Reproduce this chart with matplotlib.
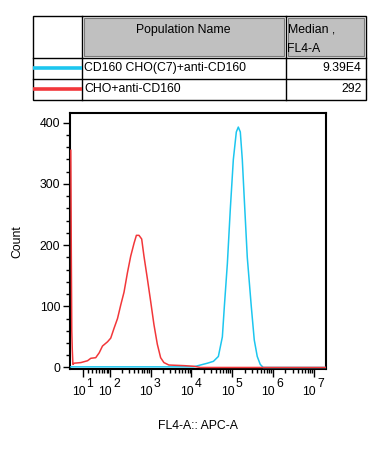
import numpy as np
import matplotlib
matplotlib.use("Agg")
import matplotlib.pyplot as plt
from matplotlib.patches import Rectangle
from matplotlib import transforms as mtrans

plt.rcParams["font.family"] = ["Liberation Sans", "DejaVu Sans"]
plt.rcParams["font.size"] = 8.8

# populations shown in the legend table
pop_names = ["CD160 CHO(C7)+anti-CD160", "CHO+anti-CD160"]
pop_medians = ["9.39E4", "292"]
pop_colors = ["#1cc6ef", "#f2373a"]

# FL4-A histogram of CHO+anti-CD160 (intensity, count)
red_x = [-14.8, -13.8, -12.8, -11.8, -10.5, -7.9, 5.0, 18.5, 26, 39, 50, 62, 85, 103,
         125, 153, 184, 222, 270, 325, 392, 448, 519, 604, 687, 833, 1003, 1207,
         1459, 1758, 2115, 2800, 6500, 11400, 16600, 1.96e7]
red_y = [355, 190, 60, 30, 5, 7, 8, 11, 15, 16, 24, 35, 42, 48,
         64, 80, 102, 123, 155, 182, 203, 216, 216, 210, 182, 145, 108, 70,
         38, 16, 8, 4, 3, 2, 0, 0]

# FL4-A histogram of CD160 CHO(C7)+anti-CD160
blue_x = [-14.8, 11190, 16600, 24600, 34400, 45500, 57000, 63800, 75600, 89400,
          105800, 125200, 140000, 156700, 175300, 196200, 232200, 290700,
          344000, 407000, 482000, 570000, 1.96e7]
blue_y = [1, 1, 4, 7, 10, 18, 50, 100, 170, 260,
          340, 385, 393, 385, 340, 275, 180, 100,
          45, 18, 5, 0, 0]

decades = [1, 2, 3, 4, 5, 6, 7]
y_major = [0, 100, 200, 300, 400]

W, H = 382, 455
fig = plt.figure(figsize=(W / 100, H / 100), dpi=100)

# overlay in pixel coordinates for the legend table
tab = fig.add_axes([0, 0, 1, 1])
tab.set_xlim(0, W)
tab.set_ylim(H, 0)
tab.axis("off")

tx0, tx1, tx2, tx3 = 32.5, 81.5, 285.5, 365.5
ty0, ty1, ty2, ty3 = 16, 57.5, 78.5, 99.5
for x0, x1 in [(tx1, tx2), (tx2, tx3)]:
    tab.add_patch(Rectangle((x0 + 2, ty0 + 2), x1 - x0 - 4, ty1 - ty0 - 4,
                            facecolor="#c0c0c0", edgecolor="#7a7a7a", lw=0.8))
tab.add_patch(Rectangle((tx0, ty0), tx3 - tx0, ty3 - ty0, fill=False,
                        edgecolor="black", lw=1))
for yy in [ty1, ty2]:
    tab.plot([tx0, tx3], [yy, yy], color="black", lw=1)
for xx in [tx1, tx2]:
    tab.plot([xx, xx], [ty0, ty3], color="black", lw=1)

tab.text((tx1 + tx2) / 2, 30, "Population Name", ha="center", va="center")
tab.text(tx2 + 2, 30, "Median ,", ha="left", va="center")
tab.text(tx2 + 2, 48.5, "FL4-A", ha="left", va="center")
for i, (nm, med, col) in enumerate(zip(pop_names, pop_medians, pop_colors)):
    yc = [67.5, 89][i]
    tab.plot([tx0, tx1], [yc, yc], color=col, lw=2.6, solid_capstyle="butt")
    tab.text(tx1 + 3, yc + 0.5, nm, ha="left", va="center")
    tab.text(tx3 - 4, yc + 0.5, med, ha="right", va="center")

# histogram axes
ax = fig.add_axes([70 / W, 1 - 369 / H, 256 / W, 256 / H])
ax.set_xscale("function", functions=(lambda v: np.arcsinh(np.asarray(v) / 34.0),
                                      lambda u: 34.0 * np.sinh(np.asarray(u))))
ax.plot(blue_x, blue_y, color=pop_colors[0], lw=1.1, zorder=3)
ax.plot(red_x, red_y, color=pop_colors[1], lw=1.1, zorder=3)
ax.set_xlim(-16.5, 1.96e7)
ax.set_ylim(-2.5, 416)

for s in ax.spines.values():
    s.set_linewidth(1.5)
    s.set_zorder(2)

ax.set_yticks(y_major)
ax.set_yticks(np.arange(0, 416, 20), minor=True)
ax.tick_params(axis="y", which="major", direction="out", length=5, width=1,
               labelsize=8.8, pad=2)
ax.tick_params(axis="y", which="minor", direction="out", length=3, width=1)

major_x = [10.0 ** d for d in decades]
minor_x = [k * 10.0 ** d for d in range(1, 8) for k in range(2, 10)
           if k * 10.0 ** d < 1.96e7]
ax.set_xticks(major_x)
ax.set_xticks(minor_x, minor=True)
ax.set_xticklabels([])
ax.tick_params(axis="x", which="major", direction="out", length=6, width=1)
ax.tick_params(axis="x", which="minor", direction="out", length=3, width=1)

blend = mtrans.blended_transform_factory(ax.transData, ax.transAxes)
for d in decades:
    t_base = mtrans.offset_copy(blend, fig=fig, x=2, y=-17, units="dots")
    t_sup = mtrans.offset_copy(blend, fig=fig, x=3, y=-9, units="dots")
    ax.text(10.0 ** d, 0, "10", transform=t_base, ha="right", va="top",
            fontsize=8.8, clip_on=False)
    ax.text(10.0 ** d, 0, str(d), transform=t_sup, ha="left", va="top",
            fontsize=8.8, clip_on=False)

fig.text(198 / W, 1 - 426 / H, "FL4-A:: APC-A", ha="center", va="center")
fig.text(17 / W, 1 - 242 / H, "Count", ha="center", va="center", rotation=90)

fig.savefig("out.png", dpi=100)
